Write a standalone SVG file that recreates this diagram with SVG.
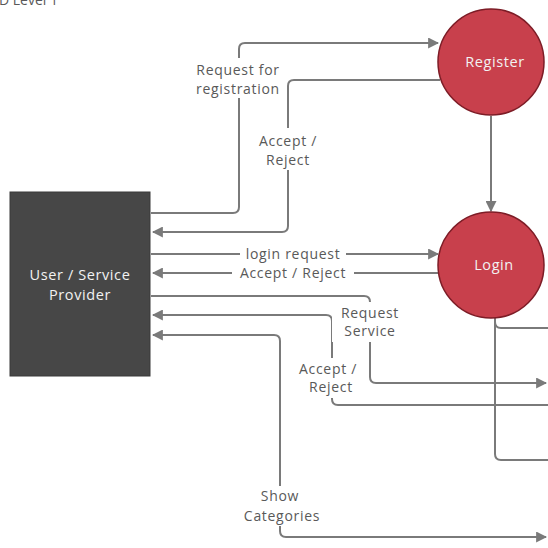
<svg xmlns="http://www.w3.org/2000/svg" width="548" height="548" viewBox="0 0 548 548">
<defs>
<marker id="ah" viewBox="0 0 10 10" refX="9" refY="5" markerWidth="5.5" markerHeight="5.5" orient="auto-start-reverse" markerUnits="strokeWidth">
<path d="M0 0 L10 5 L0 10 z" fill="#7a7a7a"/>
</marker>
<style>
.c{fill:none;stroke:#7a7a7a;stroke-width:2}
.l{font-family:"Open Sans","Noto Sans",sans-serif;font-size:14px;letter-spacing:0.7px;fill:#595959;text-anchor:middle}
.bg{fill:#ffffff}
.n{font-family:"Open Sans","Noto Sans",sans-serif;font-size:14.5px;letter-spacing:0.6px;fill:#f2f2f2;text-anchor:middle}
.circ{fill:#c8404c;stroke:#7d1c26;stroke-width:1.5}
</style>
</defs>
<rect width="548" height="548" fill="#ffffff"/>
<text x="58" y="5" font-family="Open Sans, Noto Sans, sans-serif" font-size="14" fill="#595959" text-anchor="end">DFD Level 1</text>
<g id="connectors">
<path class="c" d="M151 213 H233 Q239 213 239 207 V49 Q239 43 245 43 H438" marker-end="url(#ah)"/>
<path class="c" d="M440 80 H294 Q288 80 288 86 V226 Q288 232 282 232 H153" marker-end="url(#ah)"/>
<path class="c" d="M491 116 V211" marker-end="url(#ah)"/>
<path class="c" d="M151 254 H438" marker-end="url(#ah)"/>
<path class="c" d="M439 273 H153" marker-end="url(#ah)"/>
<path class="c" d="M151 296 H364 Q370 296 370 302 V377 Q370 383 376 383 H546" marker-end="url(#ah)"/>
<path class="c" d="M548 405 H338 Q332 405 332 399 V321 Q332 315 326 315 H153" marker-end="url(#ah)"/>
<path class="c" d="M153 335 H274 Q280 335 280 341 V531 Q280 537 286 537 H546" marker-start="url(#ah)" marker-end="url(#ah)"/>
<path class="c" d="M495 318 V322 Q495 328 501 328 H548"/>
<path class="c" d="M495 318 V454 Q495 460 501 460 H548"/>
</g>
<g id="labels">
<rect class="bg" x="192" y="58" width="92" height="40"/>
<text class="l" x="238" y="75">Request for</text>
<text class="l" x="238" y="94">registration</text>
<rect class="bg" x="250" y="128" width="76" height="42"/>
<text class="l" x="288" y="146">Accept /</text>
<text class="l" x="288" y="165">Reject</text>
<rect class="bg" x="240" y="245" width="106" height="18"/>
<text class="l" x="293" y="259">login request</text>
<rect class="bg" x="232" y="264" width="122" height="18"/>
<text class="l" x="293" y="278">Accept / Reject</text>
<rect class="bg" x="332" y="302" width="76" height="40"/>
<text class="l" x="370" y="318">Request</text>
<text class="l" x="370" y="336">Service</text>
<rect class="bg" x="292" y="358" width="74" height="40"/>
<text class="l" x="328" y="374">Accept /</text>
<text class="l" x="331" y="392">Reject</text>
<rect class="bg" x="236" y="486" width="92" height="40"/>
<text class="l" x="280" y="501">Show</text>
<text class="l" x="282" y="521">Categories</text>
</g>
<g id="user-service-provider">
<rect x="10" y="192" width="140" height="184" fill="#474747" stroke="#3a3a3a" stroke-width="1"/>
<text class="n" x="80" y="280">User / Service</text>
<text class="n" x="80" y="300">Provider</text>
</g>
<g id="register">
<circle class="circ" cx="491" cy="62" r="53"/>
<text class="n" x="495" y="67">Register</text>
</g>
<g id="login">
<circle class="circ" cx="491" cy="265" r="53"/>
<text class="n" x="494" y="270">Login</text>
</g>
</svg>
